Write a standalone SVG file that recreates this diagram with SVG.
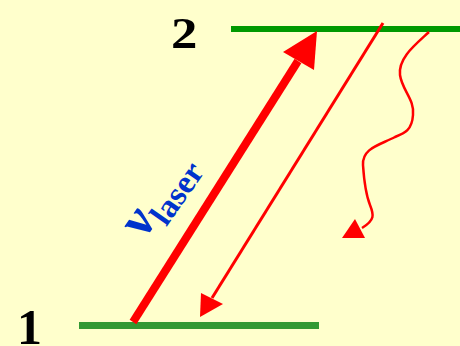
<svg xmlns="http://www.w3.org/2000/svg" width="460" height="346" viewBox="0 0 460 346">
<style>
.lvl{stroke-linecap:butt}
.num{font-family:"Liberation Serif",serif;font-weight:bold;fill:#000}
.red{stroke:#FF0000;fill:none}
</style>
<rect width="460" height="346" fill="#FFFFCC"/>
<g id="level2">
<line class="lvl" x1="231" y1="29" x2="460" y2="29" stroke="#009900" stroke-width="6"/>
<text class="num" transform="translate(171,48) scale(1.2,1)" font-size="44">2</text>
</g>
<g id="level1">
<line class="lvl" x1="79" y1="325.5" x2="319" y2="325.5" stroke="#339933" stroke-width="7"/>
<text class="num" x="17" y="344" font-size="50">1</text>
</g>
<g id="label">
<text transform="translate(144,240) rotate(-55)" font-family="Liberation Serif,serif" font-weight="bold" fill="#0033CC"><tspan font-size="52">ν</tspan><tspan font-size="33" dy="11">laser</tspan></text>
</g>
<g id="connectors">
<line class="red" x1="133" y1="322" x2="298" y2="61" stroke-width="8"/>
<polygon points="317,31 283,52 314,70" fill="#FF0000"/>
<line class="red" x1="383" y1="23" x2="212" y2="298" stroke-width="3"/>
<polygon points="200,317 201,293 223,304" fill="#FF0000"/>
<path class="red" stroke-width="2.5" d="M429,32 C415,45 398,58 400,75 C402,90 415,100 413,115 C412,130 405,133 395,137 C380,145 362,148 363,165 C364,180 366,195 370,205 C374,215 375,220 362,228"/>
<polygon points="355,219 342,238 365,238" fill="#FF0000"/>
</g>
</svg>
